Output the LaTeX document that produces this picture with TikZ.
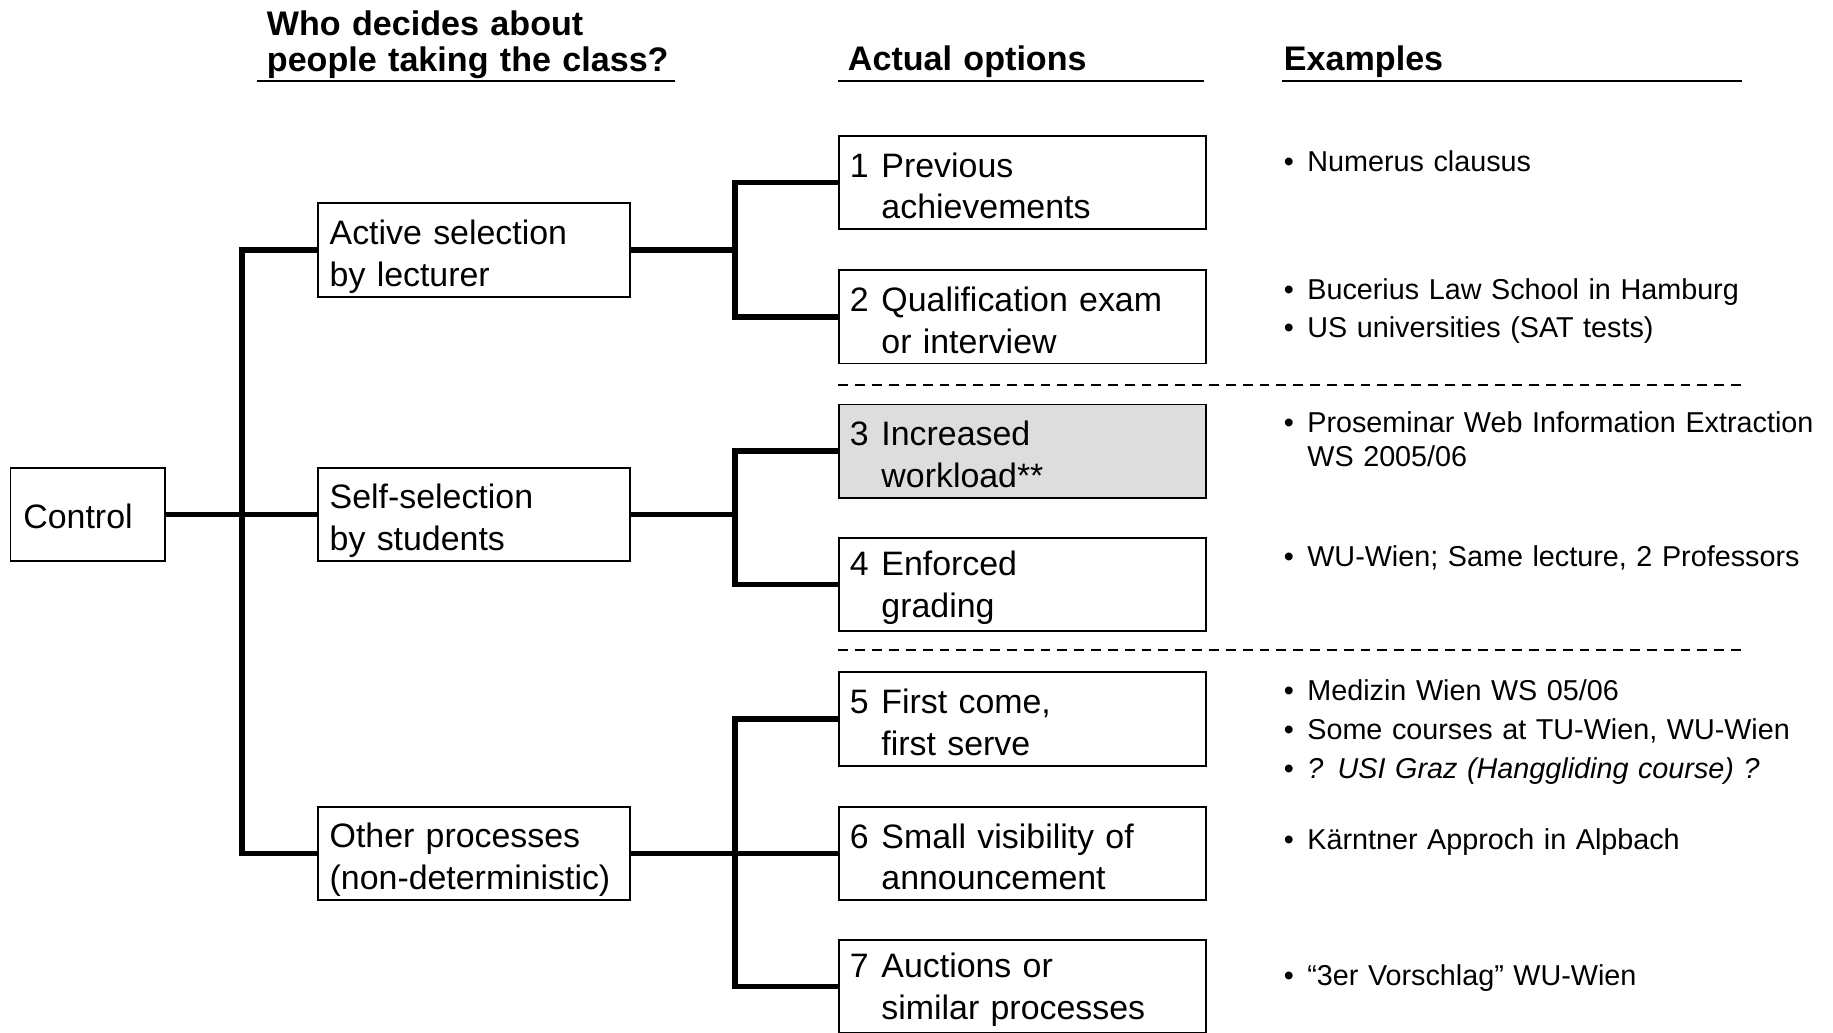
\documentclass[tikz,border=0pt]{standalone}
\usepackage{fontspec}
\setmainfont{Liberation Sans}
\definecolor{boxgray}{HTML}{DDDDDD}
\definecolor{txt}{HTML}{000000}
\usetikzlibrary{calc}

\newcommand{\optn}[1]{\makebox[0.54cm][l]{#1}}
\newcommand{\optind}{\hspace*{0.54cm}}
\newcommand{\bul}{\makebox[0.4cm][l]{\textbullet}}
\newcommand{\bulind}{\hspace*{0.4cm}}

\begin{document}
\begin{tikzpicture}[x=0.02cm,y=-0.02cm,
    hd/.style={anchor=base west,inner sep=0pt,align=left,text width=8cm,
      font=\bfseries\fontsize{16.6}{17.5}\selectfont},
    rule/.style={txt,line width=1pt},
    bx/.style={draw=txt,line width=0.9pt,fill=white,minimum height=1.6cm,
      align=left,inner xsep=0.2cm,inner ysep=0pt,
      font=\fontsize{16.5}{20.4}\selectfont},
    mx/.style={bx,text width=4.94cm,text height=0.65cm},
    ox/.style={bx,text width=5.92cm,inner xsep=0.18cm,text height=0.54cm},
    ex/.style={anchor=base west,inner sep=0pt,align=left,text width=10cm,
      font=\fontsize{14}{16.4}\selectfont},
    conn/.style={txt,line width=2.7pt},
    sepline/.style={txt,dashed,dash pattern=on 4.8pt off 3.4pt,line width=0.8pt},
  ]
    \useasboundingbox (0,0) rectangle (1568,883);

    % column heads
    \node[hd] (h1) at (228,30) {Who decides about\\people taking the class?};
    \node[hd] (h2) at (725,60) {Actual options};
    \node[hd] (h3) at (1098,60) {Examples};
    \draw[rule] (220,69) -- (577,69);
    \draw[rule] (717,69) -- (1030,69);
    \draw[rule] (1097,69) -- (1490,69);

    % tree
    \node[bx,text width=2.2cm,inner xsep=0.22cm,text height=0.5cm] (ctl) at (75,440) {Control};
    \node[mx] (act) at (405.5,214) {Active selection\\by lecturer};
    \node[mx] (slf) at (405.5,440) {Self-selection\\by students};
    \node[mx] (oth) at (405.5,730) {Other processes\\(non-deterministic)};

    \node[ox] (o1) at (875,156) {\optn{1}Previous\\\optind achievements};
    \node[ox] (o2) at (875,271) {\optn{2}Qualification exam\\\optind or interview};
    \node[ox,fill=boxgray] (o3) at (875,386) {\optn{3}Increased\\\optind workload**};
    \node[ox] (o4) at (875,500) {\optn{4}Enforced\\\optind grading};
    \node[ox] (o5) at (875,615) {\optn{5}First come,\\\optind first serve};
    \node[ox] (o6) at (875,730) {\optn{6}Small visibility of\\\optind announcement};
    \node[ox] (o7) at (875,844) {\optn{7}Auctions or\\\optind similar processes};

    \draw[conn] (ctl.east) -- ++(65,0) coordinate (j0);
    \draw[conn] (act.west) -| (j0) |- (oth.west); \draw[conn] (j0) -- (slf.west);

    \draw[conn] (act.east) -- ++(89,0) coordinate (j1);
    \draw[conn] (o1.west) -| (j1) |- (o2.west);
    \draw[conn] (slf.east) -- ++(89,0) coordinate (j2);
    \draw[conn] (o3.west) -| (j2) |- (o4.west);
    \draw[conn] (oth.east) -- ++(89,0) coordinate (j3);
    \draw[conn] (o5.west) -| (j3) |- (o7.west); \draw[conn] (j3) -- (o6.west);

    \draw[sepline] ([yshift=-0.35cm]o2.south west) -- ++(772,0);
    \draw[sepline] ([yshift=-0.3cm]o4.south west) -- ++(772,0);

    % examples
    \node[ex] (e1) at (1098,147) {\bul Numerus clausus};
    \node[ex] (e2) at (1098,256) {\bul Bucerius Law School in Hamburg\\[0.08cm]
      \bul US universities (SAT tests)};
    \node[ex] (e3) at (1098,370) {\bul Proseminar Web Information Extraction\\
      \bulind WS 2005/06};
    \node[ex] (e4) at (1098,485) {\bul WU-Wien; Same lecture, 2 Professors};
    \node[ex] (e5) at (1098,599) {\bul Medizin Wien WS 05/06\\[0.09cm]
      \bul Some courses at TU-Wien, WU-Wien\\[0.09cm]
      \bul\textit{? USI Graz (Hanggliding course) ?}};
    \node[ex] (e6) at (1098,727) {\bul Kärntner Approch in Alpbach};
    \node[ex] (e7) at (1098,843) {\bul “3er Vorschlag” WU-Wien};
\end{tikzpicture}
\end{document}
